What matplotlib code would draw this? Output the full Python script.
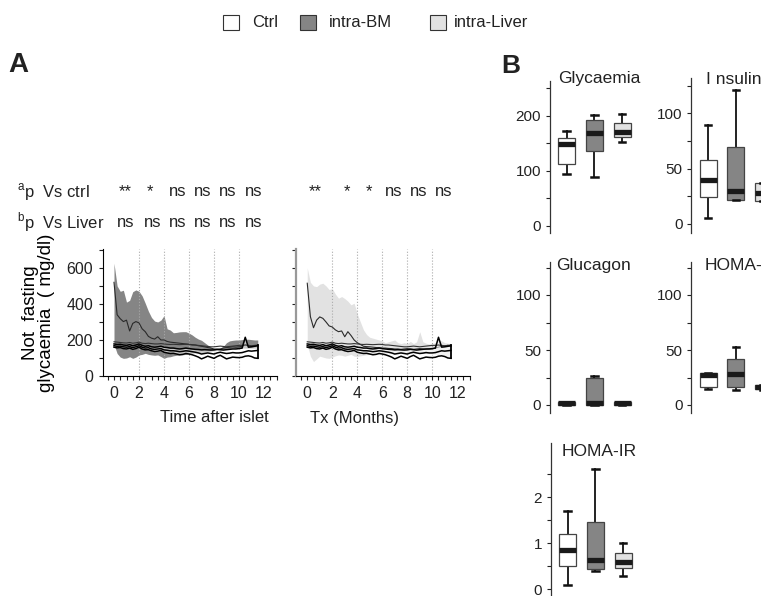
import numpy as np
import matplotlib
matplotlib.use("Agg")
import matplotlib.pyplot as plt
from matplotlib.patches import Rectangle

plt.rcParams['font.family'] = ['Liberation Sans', 'DejaVu Sans']
plt.rcParams['mathtext.fontset'] = 'custom'
plt.rcParams['mathtext.rm'] = 'Liberation Sans'
plt.rcParams['text.color'] = '#222222'

# ---- data: panel A (glycaemia over time, months), one point per week-ish
t = np.arange(47) * 0.25

bm_mean = [520, 340, 318, 302, 310, 250, 292, 302, 295, 262,
           246, 220, 210, 205, 218, 200, 200, 192, 188, 186,
           184, 182, 180, 178, 176, 174, 172, 168, 165, 162,
           158, 155, 150, 148, 150, 155, 158, 160, 162, 160,
           162, 165, 175, 168, 165, 168, 170]
bm_hi = [626, 500, 470, 476, 410, 420, 468, 478, 470, 445,
         404, 360, 325, 305, 300, 310, 335, 262, 255, 240,
         242, 245, 246, 246, 238, 228, 215, 205, 198, 185,
         172, 160, 148, 150, 155, 165, 185, 195, 198, 200,
         200, 202, 204, 204, 202, 200, 200]
bm_lo = [175, 125, 105, 98, 100, 107, 98, 105, 117, 120,
         126, 120, 117, 115, 117, 108, 98, 105, 107, 112,
         115, 117, 118, 120, 124, 126, 128, 130, 130, 132,
         135, 138, 140, 142, 145, 148, 150, 152, 155, 155,
         155, 155, 155, 155, 155, 155, 155]

liver_mean = [515, 330, 268, 310, 328, 320, 300, 278, 272, 256,
              246, 250, 218, 246, 225, 200, 185, 175, 165, 163,
              162, 160, 158, 157, 155, 155, 153, 152, 150, 150,
              148, 150, 152, 150, 148, 150, 152, 150, 148, 150,
              150, 155, 160, 165, 168, 170, 165]
liver_hi = [600, 520, 500, 496, 510, 515, 500, 480, 485, 455,
            432, 441, 430, 415, 395, 404, 345, 300, 256, 230,
            215, 210, 205, 200, 195, 185, 190, 195, 200, 185,
            180, 185, 180, 192, 180, 190, 246, 190, 182, 178,
            180, 185, 200, 195, 185, 182, 180]
liver_lo = [175, 110, 80, 95, 110, 105, 100, 98, 105, 112,
            117, 115, 110, 115, 120, 110, 108, 112, 115, 118,
            120, 122, 122, 124, 125, 126, 125, 124, 122, 124,
            126, 125, 124, 126, 125, 124, 122, 124, 125, 124,
            122, 120, 118, 115, 110, 105, 100]

ctrl_top = [190, 188, 186, 184, 183, 186, 182, 184, 188, 182,
            180, 182, 180, 178, 178, 180, 178, 176, 175, 176,
            175, 174, 175, 176, 175, 172, 172, 170, 168, 166,
            164, 162, 162, 164, 166, 164, 162, 164, 166, 168,
            170, 170, 172, 170, 168, 170, 172]
ctrl_hi = [178, 175, 176, 172, 170, 174, 168, 172, 178, 170,
           165, 168, 162, 160, 162, 165, 160, 158, 155, 155,
           152, 150, 152, 155, 152, 150, 148, 147, 145, 146,
           145, 144, 145, 148, 146, 144, 146, 148, 150, 150,
           152, 155, 215, 160, 162, 165, 168]
ctrl_mid = [168, 165, 166, 162, 160, 163, 158, 162, 168, 160,
            155, 157, 150, 148, 150, 152, 145, 143, 140, 140,
            138, 135, 137, 140, 138, 135, 132, 128, 122, 125,
            128, 125, 122, 128, 132, 128, 125, 127, 130, 128,
            128, 130, 135, 140, 138, 140, 142]
ctrl_lo = [160, 156, 158, 152, 150, 155, 148, 152, 160, 150,
           145, 146, 140, 136, 138, 142, 132, 128, 125, 126,
           122, 118, 120, 125, 122, 118, 112, 105, 95, 102,
           110, 104, 98, 108, 115, 105, 95, 100, 105, 103,
           102, 104, 110, 112, 108, 100, 98]

sig_ctrl_left = ['**', '*', 'ns', 'ns', 'ns', 'ns']
sig_liver_left = ['ns', 'ns', 'ns', 'ns', 'ns', 'ns']
sig_ctrl_right = ['**', '*', '*', 'ns', 'ns', 'ns']

# ---- data: panel B box stats (Ctrl, intra-BM, intra-Liver)
groups = ['Ctrl', 'intra-BM', 'intra-Liver']
colors = ['white', '#858585', '#e2e2e2']

glyc = dict(lo=[94, 88.5, 152], q1=[111.5, 135.8, 160.6], med=[149, 168, 170],
            q3=[158.8, 191.5, 187], hi=[172.7, 201.8, 203])
insulin = dict(lo=[5.4, 21.1, 20.5], q1=[23.9, 21.1, 20.5], med=[39.6, 29.3, 27.5],
               q3=[57.7, 69.5, 36.6], hi=[89.4, 121, 36.6])
glucagon = dict(lo=[0.3, 0.3, 0.3], q1=[0.3, 0.3, 0.3], med=[1.5, 1.5, 1.5],
                q3=[2.5, 25, 2.5], hi=[2.8, 26.7, 2.8])
homab = dict(lo=[14.5, 13.6, 13.5], q1=[16.7, 16, 14.5], med=[27, 28, 16.5],
             q3=[29.4, 41.5, 18], hi=[29.4, 53, 18.5])
homair = dict(lo=[0.1, 0.40, 0.30], q1=[0.51, 0.44, 0.46], med=[0.86, 0.64, 0.60],
              q3=[1.2, 1.47, 0.80], hi=[1.71, 2.61, 1.0])

W, H = 761, 596
fig = plt.figure(figsize=(W / 100, H / 100), dpi=100)


def fx(x):
    return x / W


def fy(y):
    return 1 - y / H


# ---------------- panel A
def time_axes(x0, band_lo, band_hi, band_mean, band_col, grey_spine):
    ax = fig.add_axes([fx(x0), fy(376), 173.75 / W, 127 / H])
    ax.set_xlim(-0.9, 13.0)
    ax.set_ylim(0, 705)
    ax.fill_between(t, band_lo, band_hi, color=band_col, lw=0, zorder=1)
    for xv in [2, 4, 6, 8, 10]:
        ax.axvline(xv, color='#aaaaaa', ls=':', lw=0.8, zorder=2)
    ax.plot(t, band_mean, color='#2a2a2a', lw=0.8, zorder=3)
    ax.fill_between(t, ctrl_lo, ctrl_hi, color='white', alpha=0.55, lw=0, zorder=3)
    ax.plot(t, ctrl_top, color='#333333', lw=0.8, zorder=4)
    for s in [ctrl_hi, ctrl_mid, ctrl_lo]:
        ax.plot(t, s, color='black', lw=1.1, zorder=4)
    ax.plot([t[-1], t[-1]], [ctrl_lo[-1], ctrl_top[-1]], color='black', lw=1.3, zorder=4)
    for sp in ['top', 'right']:
        ax.spines[sp].set_visible(False)
    ax.spines['bottom'].set_linewidth(0.8)
    if grey_spine:
        ax.spines['left'].set_color('#999999')
        ax.spines['left'].set_linewidth(1.6)
    else:
        ax.spines['left'].set_linewidth(0.8)
    ax.set_xticks(np.arange(0, 13, 2))
    ax.set_xticks(np.arange(-0.5, 13.01, 0.5), minor=True)
    ax.set_yticks([0, 200, 400, 600])
    ax.set_yticks([100, 300, 500, 700], minor=True)
    ax.tick_params(which='both', length=3, width=0.8, direction='out', labelsize=11.5,
                   colors='#222222', pad=4)
    return ax


axL = time_axes(102.75, bm_lo, bm_hi, bm_mean, '#858585', False)
axR = time_axes(296.0, liver_lo, liver_hi, liver_mean, '#e2e2e2', True)
axR.tick_params(axis='y', labelleft=False)
axL.set_ylabel('Not  fasting\nglycaemia  ( mg/dl)', fontsize=13.5, labelpad=8, linespacing=0.95)

fig.text(fx(17), fy(192), r'$^{\mathrm{a}}$p  Vs ctrl', fontsize=12, ha='left', va='center')
fig.text(fx(17), fy(222), r'$^{\mathrm{b}}$p  Vs Liver', fontsize=12, ha='left', va='center')
for lab, x in zip(sig_ctrl_left, [125, 150, 177.5, 202.5, 227.5, 254]):
    fig.text(fx(x), fy(192), lab, fontsize=12, ha='center', va='center')
for lab, x in zip(sig_liver_left, [125.7, 153, 177.5, 202.5, 227.5, 254]):
    fig.text(fx(x), fy(222), lab, fontsize=12, ha='center', va='center')
for lab, x in zip(sig_ctrl_right, [315.5, 346.7, 369.3, 394, 419, 444]):
    fig.text(fx(x), fy(192), lab, fontsize=12, ha='center', va='center')

fig.text(fx(160), fy(418), 'Time after islet', fontsize=12, ha='left', va='center')
fig.text(fx(310), fy(418), 'Tx (Months)', fontsize=12, ha='left', va='center')

fig.text(fx(8), fy(65), 'A', fontsize=20, fontweight='bold', ha='left', va='center')
fig.text(fx(501), fy(66), 'B', fontsize=19, fontweight='bold', ha='left', va='center')

# ---------------- legend
for lab, col, xs, xt in zip(groups, colors, [223, 300, 430], [252, 329, 454]):
    fig.patches.append(Rectangle((fx(xs), fy(30)), 16 / W, 15 / H, transform=fig.transFigure,
                                 facecolor=col, edgecolor='#333333', lw=0.8))
    fig.text(fx(xt), fy(22.5), lab, fontsize=12, ha='left', va='center')


# ---------------- panel B
def box_axes(x_axis, y0, ppu, top, bottom, d, title, tx, ty, major, minor):
    ax = fig.add_axes([fx(x_axis), fy(bottom), 90 / W, (bottom - top) / H])
    ax.set_xlim(0.38, 3.63)
    ax.set_ylim(-(bottom - y0) / ppu, (y0 - top) / ppu)
    stats = []
    for i in range(3):
        stats.append(dict(whislo=d['lo'][i], q1=d['q1'][i], med=d['med'][i],
                          q3=d['q3'][i], whishi=d['hi'][i], fliers=[]))
    bp = ax.bxp(stats, positions=[1, 2, 3], widths=0.61, patch_artist=True,
                showfliers=False, capwidths=0.24,
                boxprops=dict(edgecolor='#444444', lw=0.9),
                medianprops=dict(color='#1a1a1a', lw=3.8, solid_capstyle='butt'),
                whiskerprops=dict(color='#111111', lw=1.3),
                capprops=dict(color='#111111', lw=1.8))
    for patch, col in zip(bp['boxes'], colors):
        patch.set_facecolor(col)
    for w in bp['whiskers']:
        w.set_zorder(1)
    for sp in ['top', 'right', 'bottom']:
        ax.spines[sp].set_visible(False)
    ax.spines['left'].set_color('#333333')
    ax.spines['left'].set_linewidth(0.9)
    ax.set_xticks([])
    ax.set_yticks(major)
    ax.set_yticks(minor, minor=True)
    ax.tick_params(which='both', length=3, width=0.8, labelsize=11, colors='#222222', pad=3)
    fig.text(fx(tx), fy(ty), title, fontsize=12.5, ha='left', va='center')
    return ax


box_axes(549.5, 225.7, 0.55, 80.7, 233, glyc, 'Glycaemia', 558, 79,
         [0, 100, 200], [50, 150, 250])
box_axes(691, 223.7, 1.104, 78, 233, insulin, 'I nsulin', 706.5, 79,
         [0, 50, 100], [25, 75, 125])
box_axes(549.5, 405, 1.1, 261.7, 413, glucagon, 'Glucagon', 556.5, 265,
         [0, 50, 100], [25, 75, 125])
box_axes(691, 405, 1.1, 261.7, 413, homab, 'HOMA-', 705, 265,
         [0, 50, 100], [25, 75, 125])
box_axes(550.5, 589.3, 46, 443.3, 596, homair, 'HOMA-IR', 561.5, 452,
         [0, 1, 2], [0.5, 1.5, 2.5])

fig.savefig('out.png', dpi=100)
